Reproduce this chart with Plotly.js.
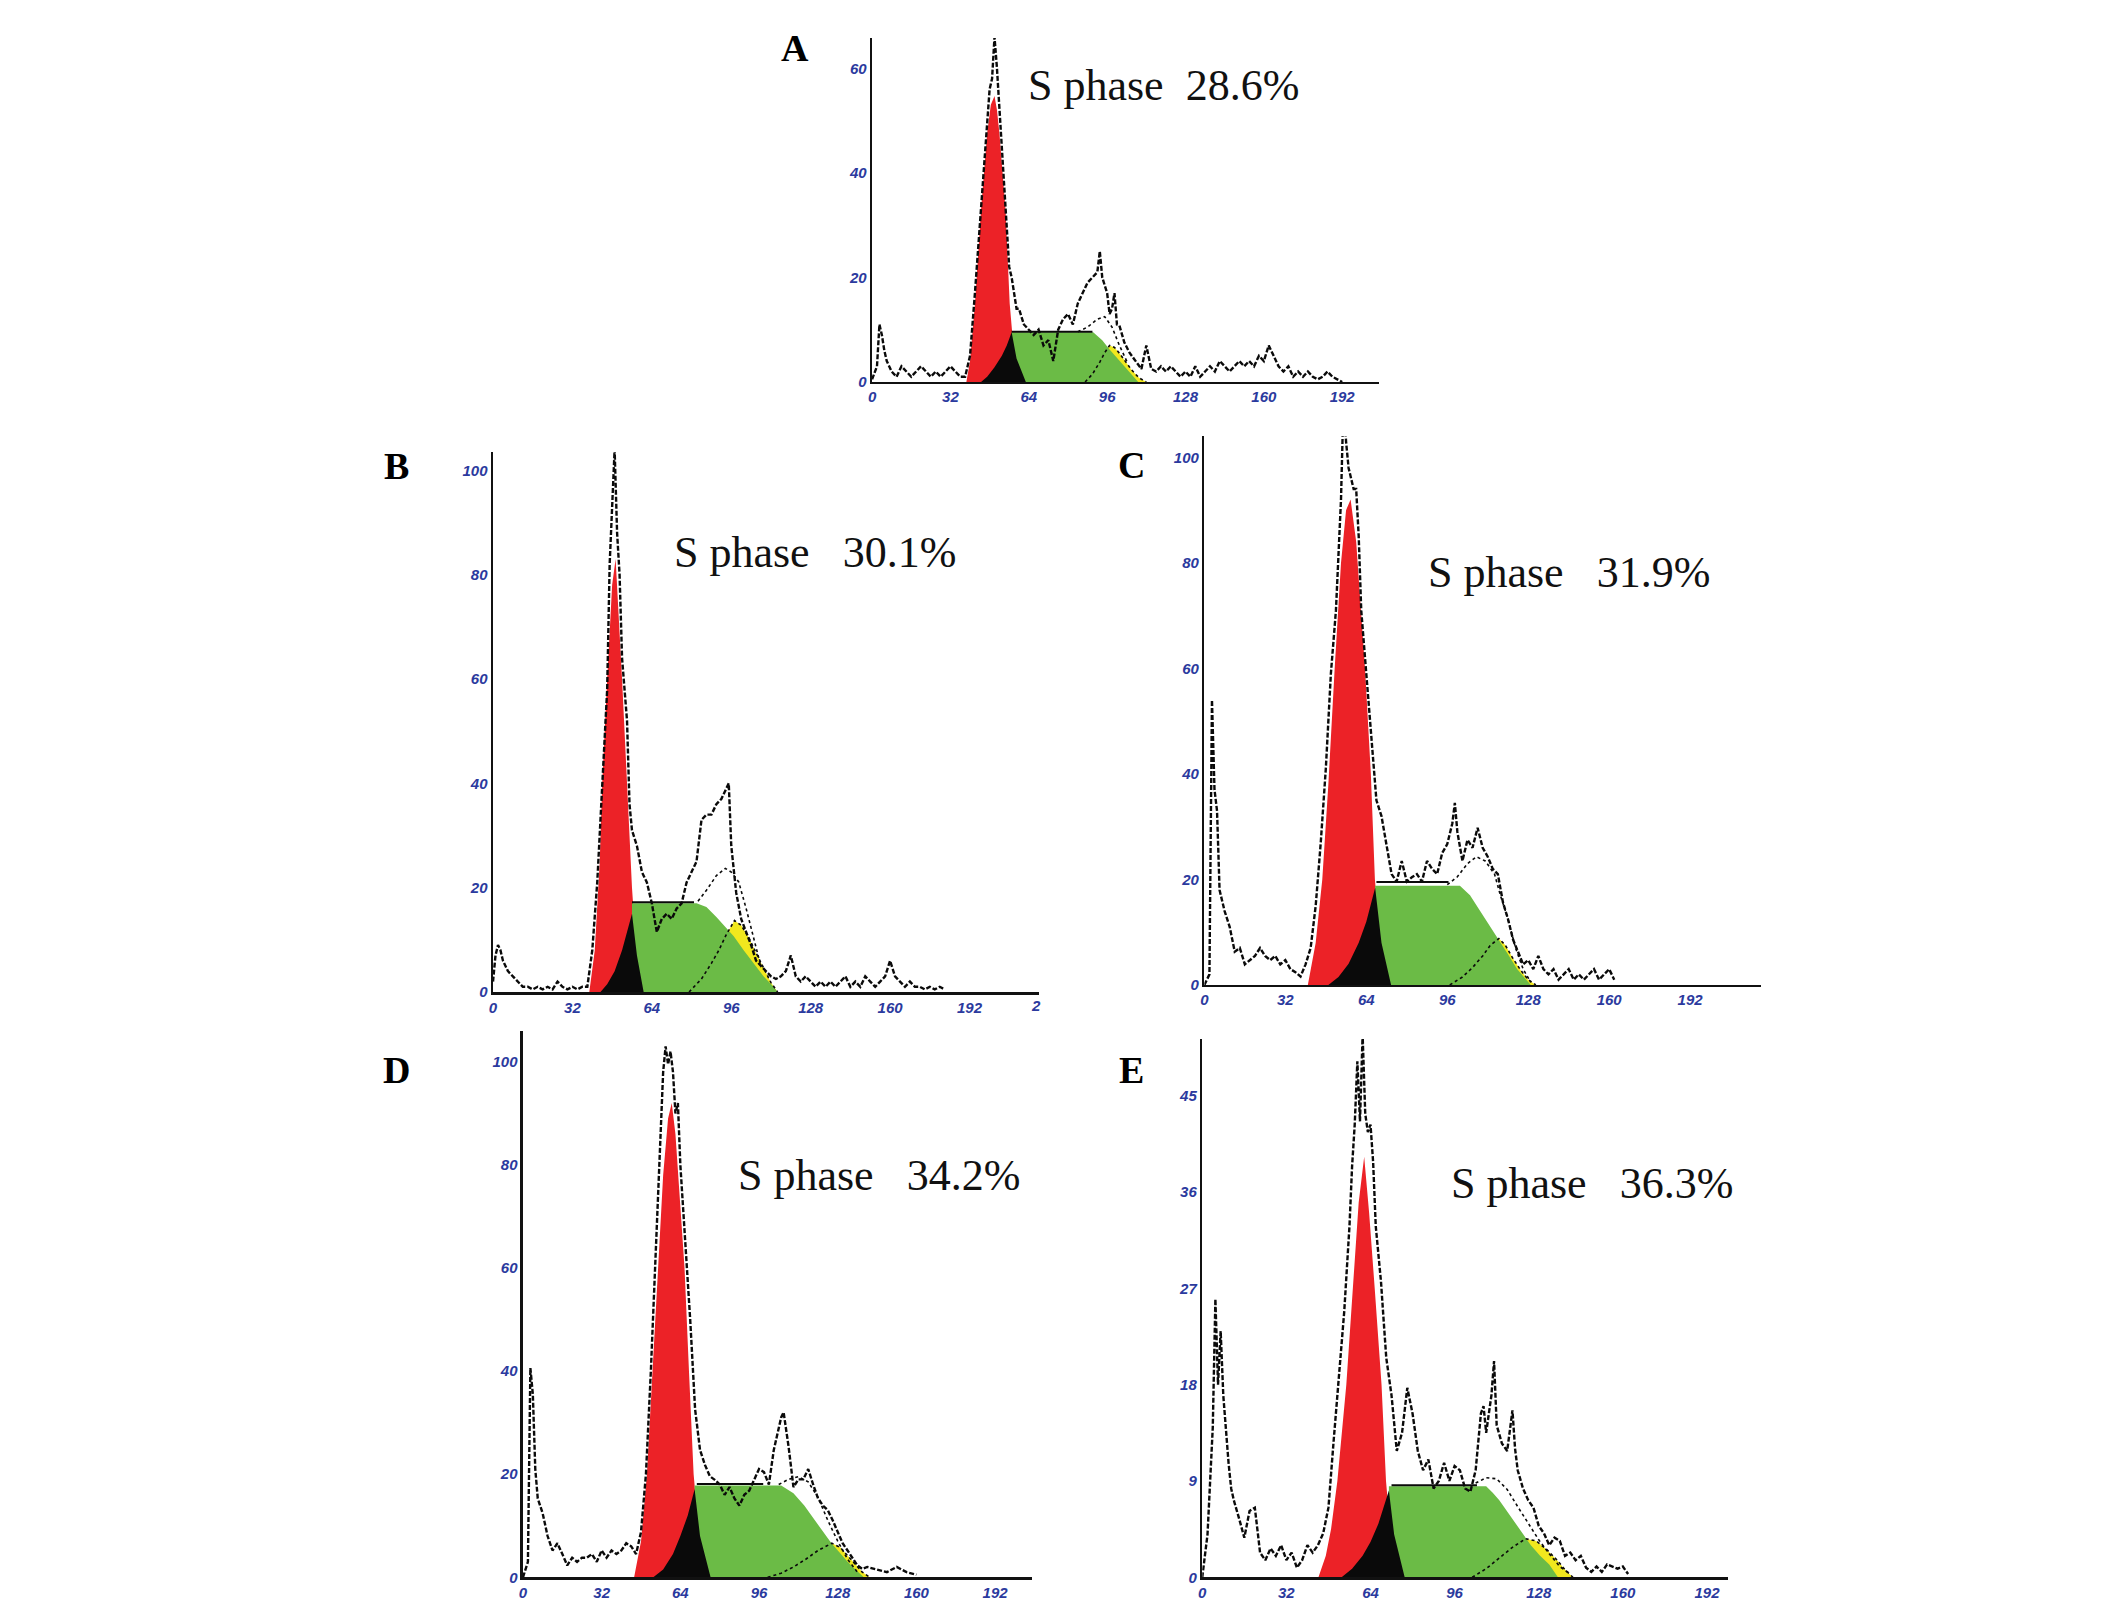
<!DOCTYPE html>
<html>
<head>
<meta charset="utf-8">
<script src="https://cdn.plot.ly/plotly-3.0.1.min.js"></script>
<style>
  html, body { margin: 0; padding: 0; background: #fff; }
  #chart { width: 2126px; height: 1607px; }
</style>
</head>
<body>
<div id="chart"></div>
<script>
// ---- histogram (channel / count) ----
var chA = [0,2,3,4,5,6,8,10,12,14,16,18,20,22,24,26,28,30,32,34,36,38,40,42,44,46,47,48,49,50,51,52,53,54,55,56,57,58,59,60,62,64,66,68,70,72,74,76,78,80,82,84,86,88,90,92,93,94,96,97,98,99,100,101,103,105,107,110,112,114,116,118,120,122,124,126,128,130,132,134,136,138,140,142,144,146,148,150,152,154,156,158,160,162,164,166,168,170,172,174,176,178,180,182,184,186,188,190,192]
var cntA = [0.5,3,11,9,6,4,2,1,3,2,1,2,3,2,1,2,1,2,3,2,1,1,5,17,30,44,50,56,58,66,60,52,46,38,28,22,20,17,14,14,11,10,9,10,7,8,4,10,12,13,11,15,17,19,20,21,25,20,17,13,14,17,11,10.8,7.6,5.7,4.4,2.5,7,2.5,2,3,2,3,2,1,2,1,3,1,2,3,2,4,3,2,3,4,3,4,3,5,4,7,5,3,2,3,1,2,1,2,1,0.5,1,2,1,0.5,0]

var chB = [0,1,2,3,4,6,8,10,12,14,16,18,20,22,24,26,28,30,32,34,36,38,40,42,44,46,47,48,49,50,51,52,54,55,56,58,60,62,64,66,68,70,72,74,76,78,80,82,84,86,88,90,92,94,95,96,98,100,102,104,106,108,110,112,114,116,118,120,122,124,126,128,130,132,134,136,138,140,142,144,146,148,150,152,154,156,158,160,162,164,166,168,170,172,174,176,178,180,182]
var cntB = [2,7,9,8,6,4,3,2,1,1,0.5,1,0.5,1,0.5,2,1,0.5,1,0.5,1,1,8,21,40,58,82,95,104,88,80,64,52,36,31,28,23,21,17,11.5,14,15,14,16,17,21,23,25,33,34,34,36,37,39,40,28,19,14,11.5,9,6,5,4,3,2.5,3,4,7,3,2,3,2,1,2,1,2,1,2,3,1,2,1,3,2,1,2,3,6,3,2,1,2,1,1,0.5,1,0.5,1,0.5]

var chC = [0,2,3,4,5,6,8,10,12,14,16,18,20,22,24,26,28,30,32,34,36,38,40,42,44,46,48,50,52,54,55,56,57,58,59,60,61,62,63,64,66,68,70,72,74,76,78,80,82,84,86,88,90,92,94,96,98,99,100,102,104,106,108,110,112,114,116,118,120,122,124,126,128,130,132,134,136,138,140,142,144,146,148,150,152,154,156,158,160,162]
var cntC = [0,2,54,37,33,18,14,11,6.3,7,3.9,4.7,5.5,7,5.5,4.7,5.5,3.9,4.7,3,2.4,1.6,3.9,7,15,27,41,59,71,92,111,103,98,96,94,94,85,71,65,59,48.6,35,32,26.7,21,19.6,23.5,19.6,20.4,21,19.6,23.5,22,21,25,26.7,30.6,34.5,29,23.5,27.5,26,29.8,26,24.3,22,21,15.7,12.5,8.6,6.3,3.9,4.7,3,5.5,3,2,3,1,2,3,1,2,1,2,3,1,2,3,1]

var chD = [0,2,3,4,5,6,8,10,12,14,16,18,20,22,24,26,28,30,32,34,36,38,40,42,44,46,48,50,52,54,56,57,58,59,60,61,62,63,64,65,66,68,70,72,74,76,78,80,82,84,86,88,90,92,94,96,98,100,102,104,105,106,108,110,112,114,116,118,120,122,124,126,128,130,132,134,136,138,140,144,148,152,156,160]
var cntD = [0,3,40.6,35.5,21,15.3,12.4,8,5.2,6.6,4.5,2.3,3.8,3,3.8,3.8,4.5,3,5.2,3.8,5.2,4.5,5.2,6.6,6,4.5,8.8,20,40,63,86,98,103,99.5,102,98,90,92,80,73,65,50,32.6,24.7,21.8,19.6,18.9,18,16,17.5,15.3,13.9,16,16.8,18.9,21,20.4,18,24.7,29,31,32,25.4,17.5,19,19,21,18,15.3,13.9,13,11,8.8,6.6,5.2,3.8,2.3,1.6,2,1.5,1,2,1,0.5]

var chE = [0,2,4,5,6,7,8,9,10,11,12,14,16,18,20,22,24,26,28,30,32,34,36,38,40,42,44,46,48,50,52,54,56,57,58,59,60,61,62,63,64,65,66,68,69,70,72,74,76,78,80,82,84,86,88,90,92,94,96,98,100,102,104,106,107,108,110,111,112,114,116,118,119,120,122,124,126,128,130,132,134,136,138,140,142,144,146,148,150,152,154,156,158,160,162]
var cntE = [0,4,14,26,18,23,17,13.5,10.7,8.3,7.2,5.5,3.7,6.2,6.5,2.3,1.6,2.7,2,3,1.6,2.3,0.9,1.6,3,2.3,3,4.1,6.5,12.8,18.8,24.8,32.8,38.4,42.3,48.2,42.6,50.7,43.3,41.6,42.3,38.8,32.8,27.6,24,20.5,17,11.8,13.5,17.7,15.3,11.8,10,11,8.3,9,10.7,9,10.4,10,8.3,8,10,15.3,16,13.5,17,20.2,14.2,12.5,11.8,15.6,12,10,8.3,7.2,6.5,4.8,4.1,3,3.7,3.4,2,2.3,1.6,2,0.9,0.5,1,0.5,1.2,1,0.8,1,0.3]

// ---- fitted components: G1 (red), S (green), S under G1 (black), G2 (yellow), G2+S fit, S plateau ----
var g1xA = [38.5,40,42,44.5,47,48.5,50,51,52,54.5,56.2,57.3,59,61]
var g1yA = [0,4,15,33,47.6,53,54.7,52,47.6,33,15,9,3,0]
var sxA = [57,57,90.3,94,97,100,103,106,108.7]
var syA = [0,9.5,9.5,8,6.2,4.6,3.1,1.6,0]
var bxA = [44.5,47,50,53,55,57,59,62.8]
var byA = [0,1,2.8,5,7,9.5,4.5,0]
var g2xA = [87,90,93,95,97,99,101,103,106,109,112]
var g2yA = [0,1.5,3.8,5.6,7,6.6,5.5,4.2,2.3,0.8,0]
var fitxA = [84,88,92,95,98,101,104]
var fityA = [9.6,10.5,12,12.5,10.5,7,4]
var topxA = [57,90]
var topyA = [9.6,9.6]

var g1xB = [38.8,41,43,44,46,48,49.4,51,52,54,56,58,60]
var g1yB = [0,8,25,40,60,78,83,70,60,40,20,6,0]
var sxB = [56,56,82,86,90,94,97,101,105,109,113,114.7]
var syB = [0,17,17,16.3,14.4,12.3,10.7,8,5.5,3,1,0]
var bxB = [43.3,46,49,52,54,56,58,60.7]
var byB = [0,1.5,4,8,11.5,15,7,0]
var g2xB = [79,84,88,91,94,97.3,100,103,106,109,112,114.7]
var g2yB = [0,2.5,5.5,8,11,13.7,12.8,10.5,7.5,4.5,1.8,0]
var fitxB = [82.6,86,90,93.6,96,99,102,104.5,108]
var fityB = [17.4,19.5,22.3,23.7,23,21.1,16,11.5,4.8]
var topxB = [56,81]
var topyB = [17.2,17.2]

var g1xC = [40.9,44,46.6,49,51.5,54,56,57.8,60,62,63.5,65.8,67.4,70,73]
var g1yC = [0,8,20,38,60,80,90,92,84,70,60,40,20,6,0]
var sxC = [67.5,67.5,101,105,109,112.7,116.4,120,123.6,128,129]
var syC = [0,18.8,18.8,17,14,11.3,8.6,5.8,3,0.4,0]
var bxC = [49,53,57,61,64,67.5,70,73.8]
var byC = [0,1.5,4,8,12,18.4,8,0]
var g2xC = [97,102,106,110,113,116.4,119,122,125,128,131]
var g2yC = [0,1.5,3.3,5.5,7.5,8.8,7.5,5,2.8,1,0]
var fitxC = [96,100,104,107.5,111,114.7,117,120,123,126,129]
var fityC = [19,20.5,23,24.3,23.5,21,17,12.5,7,3,0.5]
var topxC = [68,96.5]
var topyC = [19.5,19.5]

var g1xD = [45.2,48,50.4,52.5,54.9,57,59,60.5,62,64,65.7,67.5,69.4,72,75]
var g1yD = [0,7,20,38,60,78,89,92,86,72,60,40,20,6,0]
var sxD = [69.8,69.8,105,110,114.4,118,121.9,125.6,129.3,132,135,138.6]
var syD = [0,17.8,17.8,16.3,13.9,11.5,8.8,6.5,4.5,3,1.6,0]
var bxD = [53,57,61,64,67,69.8,72,76.3]
var byD = [0,1.5,4.5,8,12,17.1,8,0]
var g2xD = [99.5,105,110,115,120,125.6,129,132,135,138,141]
var g2yD = [0,0.8,2,3.5,5.2,6.6,5.8,4.2,2.5,1,0]
var fitxD = [104,108,112,116,120,124,128,132,136]
var fityD = [18,19,19.5,18.5,15.5,11,7,3.5,1]
var topxD = [70.7,97.7]
var topyD = [18.1,18.1]

var g1xE = [44.2,47,49,51.4,54.8,57.4,59.5,61.6,63.5,65.6,68.2,69.9,72,75]
var g1yE = [0,2,4.5,9,18,27,35,39.3,34,27,18,9,3,0]
var sxE = [71,71,108,110.5,113,116.5,120,125,128.5,132,135.3]
var syE = [0,8.5,8.5,7.9,7.2,6,4.8,3,2,1.2,0]
var bxE = [53,57,61,64,67,71,73,77]
var byE = [0,0.8,2,3.3,5,8.1,4,0]
var g2xE = [102.7,108,113,118,123,127,131,135,138,141]
var g2yE = [0,0.8,1.8,2.8,3.6,3.4,2.6,1.6,0.7,0]
var fitxE = [104,108,112,116,120,124,128,132,136,140]
var fityE = [8.8,9.3,9.2,8.2,6.6,5,3.5,2.2,1,0.3]
var topxE = [72,104.5]
var topyE = [8.6,8.6]

// ---- axis ticks ----
var xTicks = [0,32,64,96,128,160,192]
var yTicksA = [0,20,40,60]
var yTicksBCD = [0,20,40,60,80,100]
var yTicksE = [0,9,18,27,36,45]

var panelLabels = ['A','B','C','D','E']
var sPhase = ['S phase\u00a0\u00a028.6%','S phase\u00a0\u00a0\u00a030.1%','S phase\u00a0\u00a0\u00a031.9%','S phase\u00a0\u00a0\u00a034.2%','S phase\u00a0\u00a0\u00a036.3%']

var RED = '#ec2227', GREEN = '#6bbb46', YELLOW = '#f1e81e', BLACK = '#0a0a0a'

var panels = [
  {ch: chA, cnt: cntA, g1x: g1xA, g1y: g1yA, sx: sxA, sy: syA, bx: bxA, by: byA, g2x: g2xA, g2y: g2yA, fx: fitxA, fy: fityA, tx: topxA, ty: topyA},
  {ch: chB, cnt: cntB, g1x: g1xB, g1y: g1yB, sx: sxB, sy: syB, bx: bxB, by: byB, g2x: g2xB, g2y: g2yB, fx: fitxB, fy: fityB, tx: topxB, ty: topyB},
  {ch: chC, cnt: cntC, g1x: g1xC, g1y: g1yC, sx: sxC, sy: syC, bx: bxC, by: byC, g2x: g2xC, g2y: g2yC, fx: fitxC, fy: fityC, tx: topxC, ty: topyC},
  {ch: chD, cnt: cntD, g1x: g1xD, g1y: g1yD, sx: sxD, sy: syD, bx: bxD, by: byD, g2x: g2xD, g2y: g2yD, fx: fitxD, fy: fityD, tx: topxD, ty: topyD},
  {ch: chE, cnt: cntE, g1x: g1xE, g1y: g1yE, sx: sxE, sy: syE, bx: bxE, by: byE, g2x: g2xE, g2y: g2yE, fx: fitxE, fy: fityE, tx: topxE, ty: topyE}
]

var traces = []
panels.forEach(function (p, i) {
  var xa = i === 0 ? 'x' : 'x' + (i + 1)
  var ya = i === 0 ? 'y' : 'y' + (i + 1)
  function area (x, y, color) {
    return {x: x, y: y, xaxis: xa, yaxis: ya, type: 'scatter', mode: 'lines',
      fill: 'toself', fillcolor: color, line: {width: 0, color: color}, hoverinfo: 'skip'}
  }
  function line (x, y, width, dash) {
    return {x: x, y: y, xaxis: xa, yaxis: ya, type: 'scatter', mode: 'lines',
      line: {width: width, color: BLACK, dash: dash}, hoverinfo: 'skip'}
  }
  // yellow G2 goes under the green S so only its right flank shows
  traces.push(area(p.g2x, p.g2y, YELLOW))
  traces.push(area(p.g1x, p.g1y, RED))
  traces.push(area(p.sx, p.sy, GREEN))
  traces.push(area(p.bx, p.by, BLACK))
  traces.push(line(p.g2x, p.g2y, 1.6, 'dot'))
  traces.push(line(p.fx, p.fy, 1.6, 'dot'))
  traces.push(line(p.tx, p.ty, 2, 'solid'))
  traces.push(line(p.ch, p.cnt, 2.4, '5px,2px'))
})

var tickFont = {family: 'Liberation Sans, Arial, sans-serif', size: 15, color: '#2b3a9e', weight: 'bold', style: 'italic'}

function xAxis (domain, range) {
  return {domain: domain, range: range, tickvals: xTicks, showgrid: false, zeroline: false,
    showline: true, linecolor: '#111', linewidth: 2.5, ticks: '', tickfont: tickFont, fixedrange: true}
}
function yAxis (domain, range, ticks) {
  return {domain: domain, range: range, tickvals: ticks, showgrid: false, zeroline: false,
    showline: true, linecolor: '#111', linewidth: 2.5, ticks: '', tickfont: tickFont, fixedrange: true}
}

var layout = {
  width: 2126, height: 1607,
  margin: {l: 0, r: 0, t: 0, b: 0},
  paper_bgcolor: '#fff', plot_bgcolor: '#fff',
  showlegend: false,
  xaxis: xAxis([0.4102, 0.6486], [0, 207]),
  yaxis: yAxis([0.7623, 0.9764], [0, 65.8], yTicksA),
  xaxis2: xAxis([0.2319, 0.4887], [0, 220]),
  yaxis2: yAxis([0.3827, 0.7187], [0, 103.5], yTicksBCD),
  xaxis3: xAxis([0.5665, 0.8283], [0, 220]),
  yaxis3: yAxis([0.3871, 0.7285], [0, 104], yTicksBCD),
  xaxis4: xAxis([0.246, 0.4854], [0, 207]),
  yaxis4: yAxis([0.0185, 0.3585], [0, 106], yTicksBCD),
  xaxis5: xAxis([0.5655, 0.8128], [0, 200]),
  yaxis5: yAxis([0.0185, 0.3535], [0, 50.3], yTicksE),
  annotations: []
}
layout.xaxis.anchor = 'y'; layout.yaxis.anchor = 'x'
for (var k = 2; k <= 5; k++) {
  layout['xaxis' + k].anchor = 'y' + k
  layout['yaxis' + k].anchor = 'x' + k
}

var labelPos = [[0.374, 0.970], [0.1867, 0.710], [0.532, 0.7106], [0.1867, 0.3342], [0.532, 0.3342]]
var textPos = [[0.5475, 0.947], [0.3833, 0.6559], [0.738, 0.644], [0.4135, 0.2688], [0.7488, 0.2638]]
panelLabels.forEach(function (t, i) {
  layout.annotations.push({text: t, xref: 'paper', yref: 'paper', x: labelPos[i][0], y: labelPos[i][1],
    showarrow: false, xanchor: 'center', yanchor: 'middle',
    font: {family: 'Liberation Serif, Times New Roman, serif', size: 38, color: '#000', weight: 'bold'}})
  layout.annotations.push({text: sPhase[i], xref: 'paper', yref: 'paper', x: textPos[i][0], y: textPos[i][1],
    showarrow: false, xanchor: 'center', yanchor: 'middle',
    font: {family: 'Liberation Serif, Times New Roman, serif', size: 44, color: '#111'}})
})
// the "224" label of panel B is cut by the image edge, only its first digit shows
layout.annotations.push({text: '2', xref: 'paper', yref: 'paper', x: 0.4873, y: 0.374,
  showarrow: false, xanchor: 'center', yanchor: 'middle', font: tickFont})

Plotly.newPlot('chart', traces, layout, {displayModeBar: false, staticPlot: true})
</script>
</body>
</html>
